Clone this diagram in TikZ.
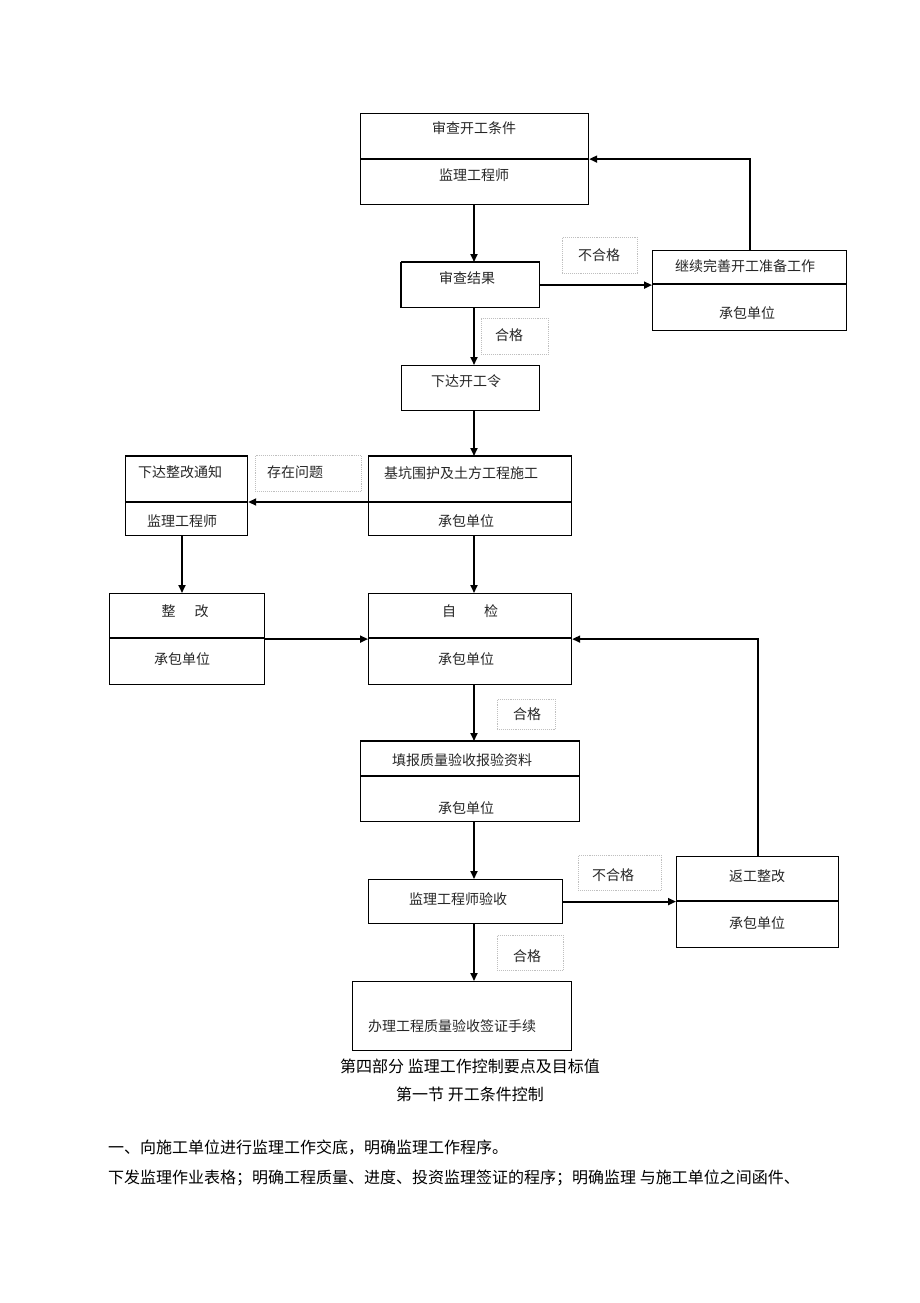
\documentclass[tikz,border=0pt]{standalone}
\usepackage{fontspec}
\setmainfont{Noto Sans CJK SC}
\usetikzlibrary{arrows.meta}

\begin{document}
\begin{tikzpicture}[x=1pt,y=-1pt,
  box/.style={draw,line width=1.2pt,inner sep=0pt,anchor=north west},
  tag/.style={draw=gray!50,densely dotted,line width=0.9pt,inner sep=0pt,anchor=north west},
  txt/.style={inner sep=0pt,text=black!85,font=\fontsize{14}{16}\selectfont},
  body/.style={inner sep=0pt,font=\fontsize{16}{18}\selectfont},
  flow/.style={line width=1.8pt,-{Triangle[length=8pt,width=7pt]}}]
\useasboundingbox (0,0) rectangle (920,1303);
\coordinate (axis) at (474,0);
\coordinate (d1) at (0,502);

% boxes
\node[box,minimum width=228,minimum height=91] (kaigong) at (360,113) {};
\node[box,minimum width=138,minimum height=45] (jieguo) at (401,262) {};
\node[box,minimum width=194,minimum height=80] (jixu) at (652,250) {};
\node[box,minimum width=138,minimum height=45] (xiada) at (401,365) {};
\node[box,minimum width=203,minimum height=79] (jikeng) at (368,456) {};
\node[box,minimum width=122,minimum height=79] (tongzhi) at (125,456) {};
\node[box,minimum width=155,minimum height=91] (zhenggai) at (109,593) {};
\node[box,minimum width=203,minimum height=91] (zijian) at (368,593) {};
\node[box,minimum width=219,minimum height=80] (tianbao) at (360,741) {};
\node[box,minimum width=194,minimum height=44] (yanshou) at (368,879) {};
\node[box,minimum width=162,minimum height=91] (fangong) at (676,856) {};
\node[box,minimum width=219,minimum height=69] (banli) at (352,981) {};

% heavy edges and dividers
\draw[line width=2.4pt] (kaigong.west) -- (kaigong.east);
\draw[line width=2.4pt] (jieguo.north west) -- (jieguo.north east);
\draw[line width=1.8pt] (jieguo.north west) -- (jieguo.south west);
\draw[line width=2.4pt] (jikeng.north west) -- (jikeng.north east);
\draw[line width=2.4pt] (tongzhi.north west) -- (tongzhi.north east);
\draw[line width=2.4pt] (tianbao.north west) -- (tianbao.north east);
\draw[line width=1.2pt] (652,284) -- (846,284);
\draw[line width=1.2pt] (368,502) -- (571,502);
\draw[line width=1.2pt] (125,502) -- (247,502);
\draw[line width=1.2pt] (109,638) -- (264,638);
\draw[line width=1.2pt] (368,638) -- (571,638);
\draw[line width=1.2pt] (360,776) -- (579,776);
\draw[line width=1.2pt] (676,901) -- (838,901);

% dotted tags
\node[tag,minimum width=75,minimum height=36] (buhege1) at (562,237) {};
\node[tag,minimum width=67,minimum height=36] (hege1) at (481,318) {};
\node[tag,minimum width=106,minimum height=36] (wenti) at (255,455) {};
\node[tag,minimum width=58,minimum height=30] (hege2) at (497,699) {};
\node[tag,minimum width=83,minimum height=35] (buhege2) at (578,855) {};
\node[tag,minimum width=66,minimum height=35] (hege3) at (497,935) {};

% texts
\node[txt] (t1) at (474,128) {审查开工条件};
\node[txt] (t2) at (474,175) {监理工程师};
\node[txt] (t3) at (467,278) {审查结果};
\node[txt] (t4) at (745,266) {继续完善开工准备工作};
\node[txt] (t5) at (747,313) {承包单位};
\node[txt] (t6) at (599,255) {不合格};
\node[txt] (t7) at (509,335) {合格};
\node[txt] (t8) at (466,381) {下达开工令};
\node[txt] (t9) at (461,473) {基坑围护及土方工程施工};
\node[txt] (t10) at (466,521) {承包单位};
\node[txt] (t11) at (295,472) {存在问题};
\node[txt] (t12) at (180,472) {下达整改通知};
\node[txt] (t13) at (182,521) {监理工程师};
\node[txt] (t14) at (185,611) {整\hspace{19pt}改};
\node[txt] (t15) at (182,659) {承包单位};
\node[txt] (t16) at (470,611) {自\hspace{28pt}检};
\node[txt] (t17) at (466,659) {承包单位};
\node[txt] (t18) at (527,714) {合格};
\node[txt] (t19) at (462,760) {填报质量验收报验资料};
\node[txt] (t20) at (466,808) {承包单位};
\node[txt] (t21) at (458,899) {监理工程师验收};
\node[txt] (t22) at (613,875) {不合格};
\node[txt] (t23) at (757,876) {返工整改};
\node[txt] (t24) at (757,923) {承包单位};
\node[txt] (t25) at (527,956) {合格};
\node[txt] (t26) at (452,1026) {办理工程质量验收签证手续};

% connectors
\draw[flow] (axis |- kaigong.south) -- (axis |- jieguo.north);
\draw[flow] (jieguo.east) -- (jieguo.east -| jixu.west);
\draw[flow] (jixu.north) |- (kaigong.east);
\draw[flow] (axis |- jieguo.south) -- (axis |- xiada.north);
\draw[flow] (axis |- xiada.south) -- (axis |- jikeng.north);
\draw[flow] (jikeng.west |- d1) -- (tongzhi.east |- d1);
\draw[flow] (182,535) -- (182,593);
\draw[flow] (axis |- jikeng.south) -- (axis |- zijian.north);
\draw[flow] (zhenggai.east) -- (zijian.west);
\draw[flow] (axis |- zijian.south) -- (axis |- tianbao.north);
\draw[flow] (axis |- tianbao.south) -- (axis |- yanshou.north);
\draw[flow] (yanshou.east) -- (yanshou.east -| fangong.west);
\draw[flow] (fangong.north) |- (zijian.east);
\draw[flow] (axis |- yanshou.south) -- (axis |- banli.north);

% text below
\node[body] (part4) at (470,1066) {第四部分 监理工作控制要点及目标值};
\node[body] (sec1) at (470,1094) {第一节 开工条件控制};
\node[body,anchor=west] (line1) at (108,1148) {一、向施工单位进行监理工作交底，明确监理工作程序。};
\node[body,anchor=west] (line2) at (108,1178) {下发监理作业表格；明确工程质量、进度、投资监理签证的程序；明确监理 与施工单位之间函件、};

\end{tikzpicture}
\end{document}
